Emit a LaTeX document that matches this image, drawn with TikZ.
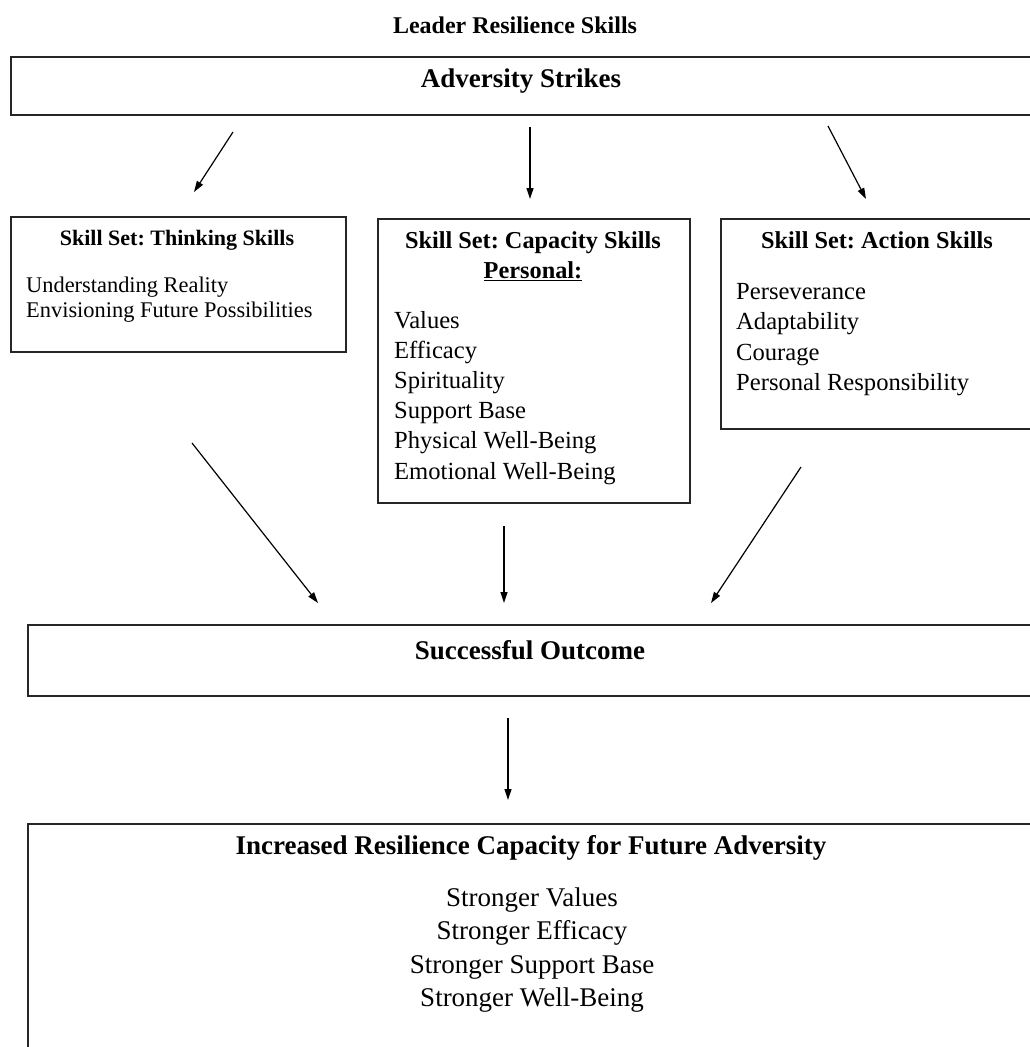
\documentclass[tikz,border=0pt]{standalone}
\usepackage{fontspec}
\setmainfont{Liberation Serif}
\usetikzlibrary{arrows.meta,positioning}
\frenchspacing

\tikzset{
  box/.style={draw=black!85, line width=1.6pt, anchor=north west, inner sep=0pt},
  head/.style={font=\bfseries\fontsize{24.3}{28}\selectfont, inner sep=0pt, anchor=base},
  bighead/.style={font=\bfseries\fontsize{27}{31}\selectfont, inner sep=0pt, anchor=base},
  item/.style={font=\fontsize{24.6}{28}\selectfont, inner sep=0pt},
  link/.style={-{Triangle[length=11pt,width=7pt]}, line width=1.2pt},
}

\begin{document}
\begin{tikzpicture}[x=1pt,y=-1pt]
\useasboundingbox (0,0) rectangle (1029,1047);

% title
\node[head, font=\bfseries\fontsize{24}{28}\selectfont] (title) at (515,33) {Leader Resilience Skills};

% adversity
\node[box, minimum width=1040pt, minimum height=58pt] (adv) at (10,56) {};
\node[bighead] (advtxt) at (521,87) {Adversity Strikes};

% three skill sets
\node[box, minimum width=335pt, minimum height=135pt] (think) at (10,216) {};
\node[head, font=\bfseries\fontsize{22}{26}\selectfont] (thinktxt) at (177,245) {Skill Set: Thinking Skills};
\foreach \txt [count=\i] in {Understanding Reality, Envisioning Future Possibilities}
  \node[item, font=\fontsize{22.4}{26}\selectfont, anchor=base west] (think\i) at (26,{292+25*(\i-1)}) {\txt};

\node[box, minimum width=312pt, minimum height=284pt] (cap) at (377,218) {};
\node[head] (captxt) at (533,248) {Skill Set: Capacity Skills};
\node[head] (pers) at (533,278) {\underline{Personal:}};
\foreach \txt [count=\i] in {Values, Efficacy, Spirituality, Support Base, Physical Well-Being, Emotional Well-Being}
  \node[item, anchor=base west] (cap\i) at (394,{328+30.2*(\i-1)}) {\txt};

\node[box, minimum width=320pt, minimum height=210pt] (act) at (720,218) {};
\node[head] (acttxt) at (877,248) {Skill Set: Action Skills};
\foreach \txt [count=\i] in {Perseverance, Adaptability, Courage, Personal Responsibility}
  \node[item, anchor=base west] (act\i) at (736,{299+30.5*(\i-1)}) {\txt};

% outcome
\node[box, minimum width=1040pt, minimum height=71pt] (out) at (27,624) {};
\node[bighead] (outtxt) at (530,659) {Successful Outcome};

% future capacity
\node[box, minimum width=1040pt, minimum height=260pt] (fut) at (27,823) {};
\node[bighead] (futtxt) at (531,854) {Increased Resilience Capacity for Future Adversity};
\foreach \txt [count=\i] in {Stronger Values, Stronger Efficacy, Stronger Support Base, Stronger Well-Being}
  \node[item, font=\fontsize{27}{31}\selectfont, anchor=base] (fut\i) at (532,{906+33.5*(\i-1)}) {\txt};

% arrow ends
\coordinate (l1) at (233,132);  \coordinate (l2) at (194,192);
\coordinate (m1) at (530,127);  \coordinate (m2) at (530,199);
\coordinate (r1) at (828,126);  \coordinate (r2) at (866,199);
\coordinate (l3) at (192,443);  \coordinate (l4) at (318,603);
\coordinate (m3) at (504,526);  \coordinate (m4) at (504,603);
\coordinate (r3) at (801,467);  \coordinate (r4) at (711,603);
\coordinate (b1) at (508,718);  \coordinate (b2) at (508,800);

\draw[link] (l1) -- (l2);
\draw[link] (m1) -- (m2);
\draw[link] (r1) -- (r2);
\draw[link] (l3) -- (l4);
\draw[link] (m3) -- (m4);
\draw[link] (r3) -- (r4);
\draw[link] (b1) -- (b2);
\end{tikzpicture}
\end{document}
